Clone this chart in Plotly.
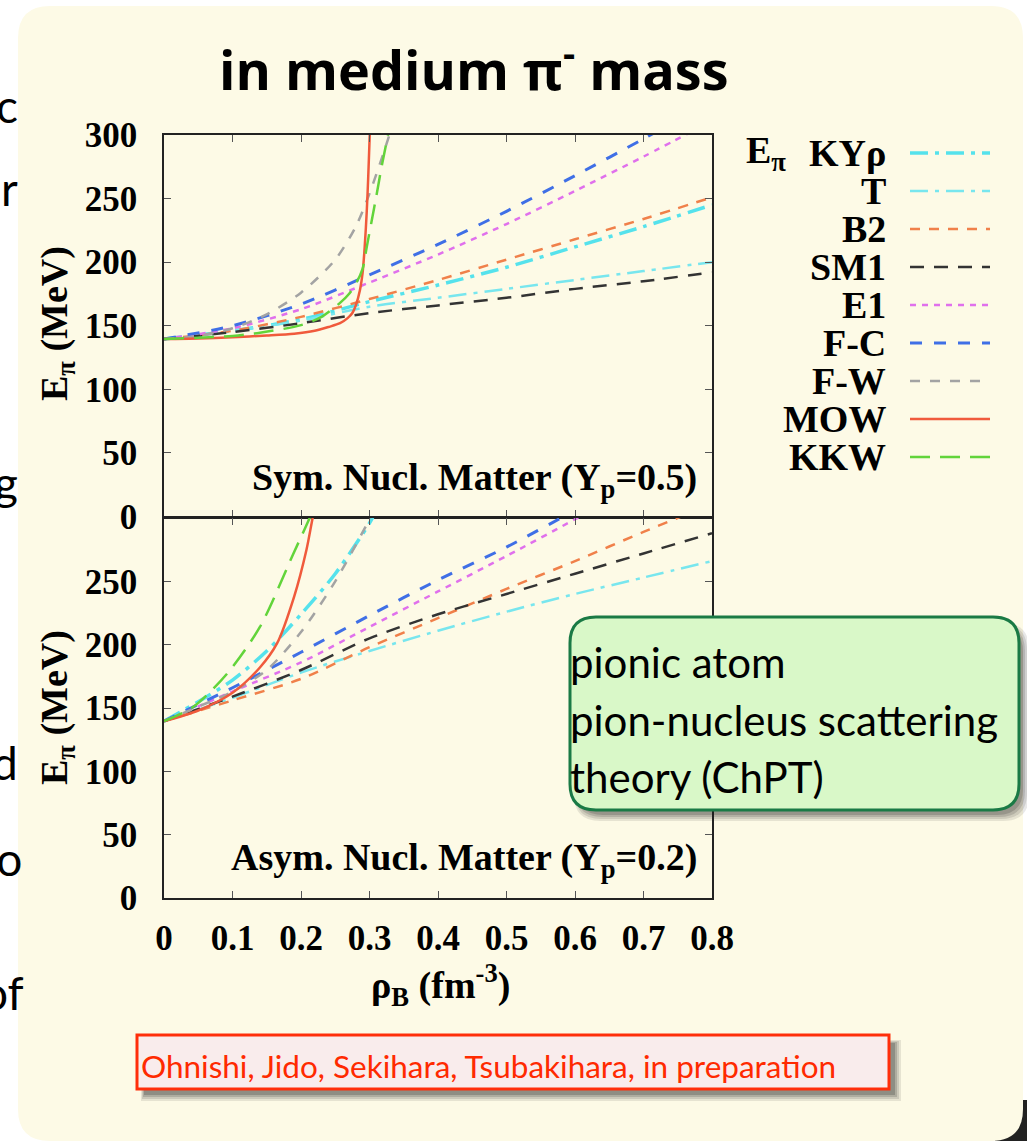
import plotly.graph_objects as go

W, H = 1027, 1141

# ---------------- data ----------------
rho = [0.0, 0.1, 0.2, 0.3, 0.4, 0.5, 0.6, 0.7, 0.8]

# Symmetric nuclear matter (Yp = 0.5)
sym_kyr_y = [139.6, 146, 155, 169, 182, 196, 212, 228, 245]
sym_t_y = [139.6, 146, 154, 165, 172, 179, 186, 193, 200]
sym_b2_y = [139.6, 146, 157, 171, 186, 202, 218, 234, 251]
sym_sm1_y = [139.6, 145, 152, 160, 166, 172, 179, 185, 192]
sym_e1_y = [139.6, 148, 163, 184, 206, 230, 256, 283, 311]
sym_fc_y = [139.6, 150, 167, 190, 214, 240, 268, 297, 327]
sym_fw_x = [0, 0.05, 0.1, 0.15, 0.2, 0.25, 0.28, 0.3, 0.32, 0.335]
sym_fw_y = [139.6, 142, 148, 159, 176, 202, 228, 254, 285, 310]
sym_mow_x = [0, 0.05, 0.1, 0.15, 0.19, 0.22, 0.24, 0.257, 0.268, 0.275, 0.28,
             0.286, 0.29, 0.293, 0.296, 0.298, 0.3, 0.301]
sym_mow_y = [139.6, 140, 141, 142.3, 143.7, 146, 149, 152, 156, 160, 166,
             178, 192, 212, 240, 265, 295, 310]
sym_kkw_x = [0, 0.05, 0.1, 0.14, 0.2, 0.23, 0.257, 0.27, 0.281, 0.29, 0.296,
             0.303, 0.31, 0.318, 0.327, 0.332]
sym_kkw_y = [139.6, 140.5, 142, 144.5, 150.5, 157, 168, 175, 184, 195, 212,
             232, 252, 276, 300, 315]

# Asymmetric nuclear matter (Yp = 0.2)
asym_kyr_x = [0, 0.05, 0.1, 0.15, 0.2, 0.25, 0.3, 0.31]
asym_kyr_y = [139.6, 155, 172, 195, 224, 256, 296, 306]
asym_t_y = [139.6, 158, 178, 195, 211, 226, 240, 253, 266]
asym_b2_y = [139.6, 156, 173, 198, 221, 244, 266, 289, 311]
asym_sm1_y = [139.6, 159, 180, 205, 224, 240, 256, 272, 288]
asym_e1_y = [139.6, 163, 186, 214, 242, 270, 299, 329, 359]
asym_fc_y = [139.6, 166, 194, 223, 251, 277, 306, 335, 364]
asym_fw_x = [0, 0.05, 0.1, 0.15, 0.2, 0.25, 0.3, 0.31]
asym_fw_y = [139.6, 151, 163, 180, 210, 250, 299, 310]
asym_mow_x = [0, 0.05, 0.1, 0.14, 0.165, 0.19, 0.208, 0.217, 0.222]
asym_mow_y = [139.6, 148, 162, 182, 201, 238, 275, 300, 312]
asym_kkw_x = [0, 0.043, 0.092, 0.14, 0.189, 0.211, 0.218]
asym_kkw_y = [139.6, 151, 177, 214, 272, 298, 307]

models = ["KYρ", "T", "B2", "SM1", "E1", "F-C", "F-W", "MOW", "KKW"]
x_ticks = [0, 0.1, 0.2, 0.3, 0.4, 0.5, 0.6, 0.7, 0.8]
x_ticktext = ["0", "0.1", "0.2", "0.3", "0.4", "0.5", "0.6", "0.7", "0.8"]
y_ticks = [0, 50, 100, 150, 200, 250, 300]
y_ticktext_top = ["0", "50", "100", "150", "200", "250", "300"]
y_ticktext_bot = ["0", "50", "100", "150", "200", "250", ""]

sym_series = {
    "KYρ": (rho, sym_kyr_y), "T": (rho, sym_t_y), "B2": (rho, sym_b2_y),
    "SM1": (rho, sym_sm1_y), "E1": (rho, sym_e1_y), "F-C": (rho, sym_fc_y),
    "F-W": (sym_fw_x, sym_fw_y), "MOW": (sym_mow_x, sym_mow_y),
    "KKW": (sym_kkw_x, sym_kkw_y),
}
asym_series = {
    "KYρ": (asym_kyr_x, asym_kyr_y), "T": (rho, asym_t_y), "B2": (rho, asym_b2_y),
    "SM1": (rho, asym_sm1_y), "E1": (rho, asym_e1_y), "F-C": (rho, asym_fc_y),
    "F-W": (asym_fw_x, asym_fw_y), "MOW": (asym_mow_x, asym_mow_y),
    "KKW": (asym_kkw_x, asym_kkw_y),
}

styles = {
    "KYρ": dict(color="#55e2ec", width=3.5, dash="18px,7px,4px,7px"),
    "T": dict(color="#78e6ee", width=2.5, dash="18px,7px,4px,7px"),
    "B2": dict(color="#f0804a", width=2.5, dash="10px,9px"),
    "SM1": dict(color="#333333", width=2.5, dash="14px,10px"),
    "E1": dict(color="#e070ec", width=2.5, dash="6px,6px"),
    "F-C": dict(color="#3f6fe6", width=3, dash="12px,12px"),
    "F-W": dict(color="#a3a3a3", width=2.5, dash="10px,10px"),
    "MOW": dict(color="#f05a3c", width=2.5, dash="solid"),
    "KKW": dict(color="#62d43a", width=2.5, dash="20px,10px"),
}

# ---------------- helpers ----------------
def fx(x):
    return x / W


def fy(y):
    return 1 - y / H


def rrect(x0, y0, x1, y1, r):
    def P(x, y):
        return f"{fx(x):.5f},{fy(y):.5f}"
    return (f"M {P(x0 + r, y0)} L {P(x1 - r, y0)} Q {P(x1, y0)} {P(x1, y0 + r)} "
            f"L {P(x1, y1 - r)} Q {P(x1, y1)} {P(x1 - r, y1)} L {P(x0 + r, y1)} "
            f"Q {P(x0, y1)} {P(x0, y1 - r)} L {P(x0, y0 + r)} Q {P(x0, y0)} {P(x0 + r, y0)} Z")


fig = go.Figure()

for m in models:
    xs, ys = sym_series[m]
    st = styles[m]
    fig.add_trace(go.Scatter(x=xs, y=ys, mode="lines", name=m, showlegend=False,
                             line=dict(color=st["color"], width=st["width"], dash=st["dash"],
                                       shape="spline", smoothing=0.8),
                             xaxis="x", yaxis="y"))
for m in models:
    xs, ys = asym_series[m]
    st = styles[m]
    fig.add_trace(go.Scatter(x=xs, y=ys, mode="lines", name=m, showlegend=False,
                             line=dict(color=st["color"], width=st["width"], dash=st["dash"],
                                       shape="spline", smoothing=0.8),
                             xaxis="x2", yaxis="y2"))

X0, X1 = 164, 712
YT0, YB1 = 135, 898
YMID_TOP, YMID_BOT = 516.5, 518

tickfont = dict(family="Liberation Serif", size=35, color="black", weight="bold")
axis_common = dict(showline=True, linecolor="#222222", linewidth=1.5, mirror="ticks",
                   ticks="inside", ticklen=7, tickwidth=1, tickcolor="#555555",
                   showgrid=False, zeroline=False, tickfont=tickfont)

shapes = []
# page shadow corner + cream panel
shapes.append(dict(type="rect", xref="paper", yref="paper", x0=fx(995), x1=fx(1027),
                   y0=fy(1141), y1=fy(1100), fillcolor="#222222", line=dict(width=0), layer="below"))
shapes.append(dict(type="path", xref="paper", yref="paper", path=rrect(18, 6, 1023, 1141, 32),
                   fillcolor="#fdfae6", line=dict(width=0), layer="below"))

# green box shadow and box
for i, op in enumerate([0.10, 0.12, 0.15, 0.18]):
    d = 9 - 2 * i
    shapes.append(dict(type="path", xref="paper", yref="paper",
                       path=rrect(572 + 2 + i, 619 + 4 + i, 1020 + d, 810 + d + 2, 26),
                       fillcolor=f"rgba(30,30,30,{op})", line=dict(width=0), layer="above"))
shapes.append(dict(type="path", xref="paper", yref="paper", path=rrect(570, 617, 1019, 810, 26),
                   fillcolor="#d9f8c8", line=dict(color="#1a7a45", width=3), layer="above"))

# red box shadow and box
for i, op in enumerate([0.10, 0.13, 0.17, 0.22]):
    d = 11 - 2 * i
    shapes.append(dict(type="rect", xref="paper", yref="paper",
                       x0=fx(141 + i), x1=fx(890 + d), y0=fy(1090 + d), y1=fy(1040 + i),
                       fillcolor=f"rgba(30,30,30,{op})", line=dict(width=0), layer="above"))
shapes.append(dict(type="rect", xref="paper", yref="paper", x0=fx(137), x1=fx(889),
                   y0=fy(1089), y1=fy(1035), fillcolor="#f9ecec",
                   line=dict(color="#ff2e0a", width=3), layer="above"))

# legend samples
legend_rows = [153, 191, 229, 267, 305, 343, 381, 419, 457]
for m, yy in zip(models, legend_rows):
    st = styles[m]
    shapes.append(dict(type="line", xref="paper", yref="paper", x0=fx(910), x1=fx(990),
                       y0=fy(yy), y1=fy(yy),
                       line=dict(color=st["color"], width=st["width"], dash=st["dash"])))

annotations = []
serif_b = dict(family="Liberation Serif", size=38, color="black", weight="bold")

# legend labels
for m, yy in zip(models, legend_rows):
    annotations.append(dict(xref="paper", yref="paper", x=fx(888), y=fy(yy), xanchor="right",
                            yanchor="middle", text=m, showarrow=False, font=serif_b))
annotations.append(dict(xref="paper", yref="paper", x=fx(744), y=fy(153), xanchor="left",
                        yanchor="middle", text="E<sub>π</sub>", showarrow=False, font=serif_b))

# title
annotations.append(dict(xref="paper", yref="paper", x=fx(474), y=fy(66), xanchor="center",
                        yanchor="middle", text="in medium π<sup>-</sup> mass", showarrow=False,
                        font=dict(family="Open Sans", size=54, color="black", weight="bold")))

# axis titles
for yc in [324, 708]:
    annotations.append(dict(xref="paper", yref="paper", x=fx(57), y=fy(yc), xanchor="center",
                            yanchor="middle", textangle=-90, text="E<sub>π</sub> (MeV)",
                            showarrow=False, font=serif_b))
annotations.append(dict(xref="paper", yref="paper", x=fx(440), y=fy(985), xanchor="center",
                        yanchor="middle", text="ρ<sub>B</sub> (fm<sup>-3</sup>)",
                        showarrow=False, font=serif_b))

# panel labels
annotations.append(dict(xref="paper", yref="paper", x=fx(699), y=fy(480), xanchor="right",
                        yanchor="middle", text="Sym. Nucl. Matter (Y<sub>p</sub>=0.5)",
                        showarrow=False, font=serif_b))
annotations.append(dict(xref="paper", yref="paper", x=fx(699), y=fy(860), xanchor="right",
                        yanchor="middle", text="Asym. Nucl. Matter (Y<sub>p</sub>=0.2)",
                        showarrow=False, font=serif_b))

# green box text
for txt, yy in [("pionic atom", 662), ("pion-nucleus scattering", 720), ("theory (ChPT)", 777)]:
    annotations.append(dict(xref="paper", yref="paper", x=fx(568), y=fy(yy), xanchor="left",
                            yanchor="middle", text=txt, showarrow=False,
                            font=dict(family="Lato", size=42, color="black")))

# red box text
annotations.append(dict(xref="paper", yref="paper", x=fx(139), y=fy(1066), xanchor="left",
                        yanchor="middle",
                        text="Ohnishi, Jido, Sekihara, Tsubakihara, in preparation",
                        showarrow=False, font=dict(family="Lato", size=31.5, color="#ff2a00")))

# background slide text fragments at left edge
for txt, yy, xr in [("c", 105, 20), ("r", 188, 20), ("g", 482, 20), ("d", 762, 20),
                    ("fo", 858, 24), ("of", 992, 26)]:
    annotations.append(dict(xref="paper", yref="paper", x=fx(xr), y=fy(yy), xanchor="right",
                            yanchor="middle", text=txt, showarrow=False,
                            font=dict(family="Lato", size=46, color="black")))

fig.update_layout(
    width=W, height=H,
    margin=dict(l=0, r=0, t=0, b=0, pad=0, autoexpand=False),
    paper_bgcolor="white",
    plot_bgcolor="rgba(0,0,0,0)",
    showlegend=False,
    xaxis=dict(domain=[fx(X0), fx(X1)], range=[0, 0.8], anchor="y", tickvals=x_ticks,
               showticklabels=False, **axis_common),
    yaxis=dict(domain=[fy(YMID_TOP), fy(YT0)], range=[0, 300], anchor="x", tickvals=y_ticks,
               ticktext=y_ticktext_top, ticklabelstandoff=18, **axis_common),
    xaxis2=dict(domain=[fx(X0), fx(X1)], range=[0, 0.8], anchor="y2", tickvals=x_ticks,
                ticktext=x_ticktext, ticklabelstandoff=8, **axis_common),
    yaxis2=dict(domain=[fy(YB1), fy(YMID_BOT)], range=[0, 300], anchor="x2", tickvals=y_ticks,
                ticktext=y_ticktext_bot, ticklabelstandoff=18, **axis_common),
    shapes=shapes,
    annotations=annotations,
)

fig.write_html("out.html")
